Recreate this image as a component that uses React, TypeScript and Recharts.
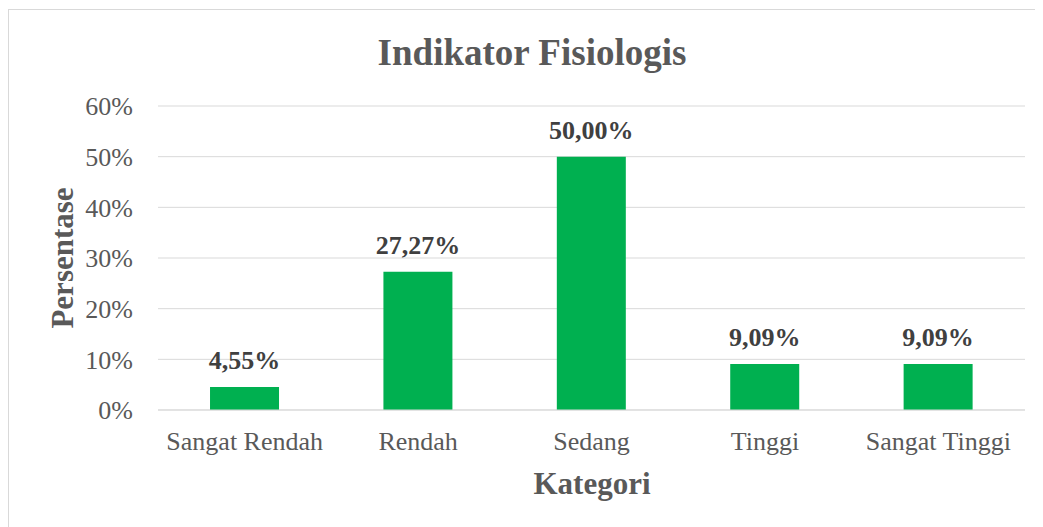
import React from 'react';
import { BarChart, Bar, XAxis, YAxis, CartesianGrid, LabelList } from 'recharts';

const categories = ['Sangat Rendah', 'Rendah', 'Sedang', 'Tinggi', 'Sangat Tinggi'];
const percentages = [4.55, 27.27, 50.0, 9.09, 9.09];
const yTicks = [0, 10, 20, 30, 40, 50, 60];
const chartTitle = 'Indikator Fisiologis';
const xTitle = 'Kategori';
const yTitle = 'Persentase';

const data = categories.map((c, i) => ({ name: c, value: percentages[i] }));

const FONT = '"Liberation Serif", "Times New Roman", serif';
const W = 1035;
const H = 519;

export default function App() {
  return (
    <div style={{ position: 'relative', width: W, height: H, background: '#fff' }}>
      <BarChart
        width={W}
        height={H}
        data={data}
        margin={{ top: 98, right: 18, bottom: 77, left: 0 }}
        barCategoryGap="30%"
      >
        <CartesianGrid vertical={false} stroke="#d9d9d9" strokeWidth={1} />
        <XAxis
          dataKey="name"
          height={40}
          axisLine={{ stroke: '#d9d9d9' }}
          tickLine={false}
          tickSize={0}
          tickMargin={22}
          tick={{ fill: '#595959', fontSize: 26, fontFamily: FONT }}
          interval={0}
        />
        <YAxis
          width={150}
          domain={[0, 60]}
          ticks={yTicks}
          axisLine={false}
          tickLine={false}
          tickSize={0}
          tickMargin={25}
          tickFormatter={(v: number) => `${v}%`}
          tick={{ fill: '#595959', fontSize: 26, fontFamily: FONT }}
        />
        <Bar dataKey="value" fill="#00B050" isAnimationActive={false}>
          <LabelList
            dataKey="value"
            position="top"
            offset={18}
            formatter={(v: number) => `${v.toFixed(2).replace('.', ',')}%`}
            style={{ fill: '#404040', fontSize: 26, fontWeight: 'bold', fontFamily: FONT }}
          />
        </Bar>
      </BarChart>
      <svg
        width={W}
        height={H}
        style={{ position: 'absolute', left: 0, top: 0, pointerEvents: 'none' }}
      >
        <line x1={0.5} y1={1} x2={0.5} y2={H} stroke="#d9d9d9" strokeWidth={1} />
        <line x1={0} y1={1.5} x2={W} y2={1.5} stroke="#d9d9d9" strokeWidth={1} />
        <text
          x={524}
          y={57}
          textAnchor="middle"
          fontFamily={FONT}
          fontSize={37}
          fontWeight="bold"
          fill="#595959"
        >
          {chartTitle}
        </text>
        <text
          x={584}
          y={486}
          textAnchor="middle"
          fontFamily={FONT}
          fontSize={31}
          fontWeight="bold"
          fill="#595959"
        >
          {xTitle}
        </text>
        <text
          x={65}
          y={250}
          textAnchor="middle"
          transform="rotate(-90, 65, 250)"
          fontFamily={FONT}
          fontSize={31}
          fontWeight="bold"
          fill="#595959"
        >
          {yTitle}
        </text>
      </svg>
    </div>
  );
}
